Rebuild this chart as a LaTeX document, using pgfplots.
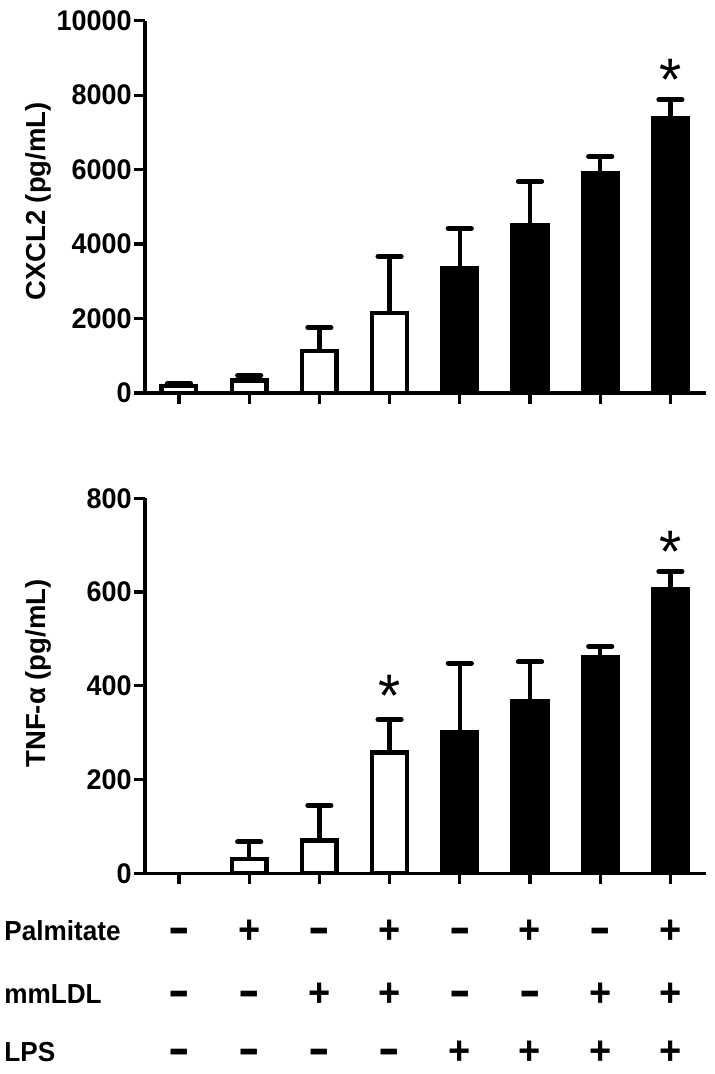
\documentclass[border=0pt]{standalone}
\usepackage{pgfplots}
\pgfplotsset{compat=1.18}
\usepackage{graphicx}
\usepackage{fontspec}
\setmainfont{Liberation Sans}[FakeStretch=0.95]
\newfontfamily\labfont{Liberation Sans}
\newcommand\pl{+}
\newcommand\mi{\raisebox{0em}{\scalebox{1.7}[1.2]{-}}}
\newcommand\tickfont{\bfseries\fontsize{14.2}{16}\selectfont}
\begin{document}
\begin{tikzpicture}
\path[use as bounding box] (0,0) rectangle (357pt,537pt);
\pgfplotsset{
  common/.style={
    scale only axis, width=280.5pt,
    xmin=-0.484, xmax=7.507, ymin=0,
    axis x line*=bottom, axis y line*=left,
    axis line style={line width=1.6pt, black},
    tick style={line width=1.6pt, black},
    tick align=outside, major tick length=5.5pt,
    xtick={0,1,2,3,4,5,6,7}, xticklabels={},
    scaled y ticks=false,
    yticklabel style={font=\tickfont, inner xsep=1pt},
    yticklabel={\tickfont\pgfmathprintnumber[assume math mode=true,1000 sep={}]{\tick}},
    clip=false,
    error bars/y dir=plus, error bars/y explicit,
    error bars/error bar style={line width=2.2pt, black},
    error bars/error mark options={rotate=90, line width=2.6pt, mark size=5.75pt, black, line cap=round},
  },
  wbar/.style={ybar, bar shift=0pt, bar width=17.3pt, fill=white, draw=black, line width=2.2pt},
  bbar/.style={ybar, bar shift=0pt, bar width=17.3pt, fill=black, draw=black, line width=2.2pt},
}
\tikzset{
  star/.style={font=\fontsize{30}{30}\selectfont, inner sep=0pt},
  sym/.style={font=\bfseries\fontsize{20}{20}\selectfont, inner sep=0pt, text height=0.6em, text depth=0pt, anchor=center},
  rowlab/.style={font=\bfseries\fontsize{13.75}{16}\selectfont, inner sep=0pt, anchor=west},
}
\newcommand\tabrow[9]{%
  \node[sym] at (axis cs:0,#1) {#2};
  \node[sym] at (axis cs:1,#1) {#3};
  \node[sym] at (axis cs:2,#1) {#4};
  \node[sym] at (axis cs:3,#1) {#5};
  \node[sym] at (axis cs:4,#1) {#6};
  \node[sym] at (axis cs:5,#1) {#7};
  \node[sym] at (axis cs:6,#1) {#8};
  \node[sym] at (axis cs:7,#1) {#9};
}
% ---------------- top panel ----------------
\begin{axis}[common,
  at={(72.5pt,340.5pt)}, anchor=south west,
  height=186.15pt, ymax=10000,
  ytick={0,2000,4000,6000,8000,10000},
  ylabel={CXCL2 (pg/mL)},
  every axis y label/.style={at={(axis description cs:-0.1893,0.5144)}, rotate=90, anchor=center,
    font=\labfont\bfseries\fontsize{13.75}{16}\selectfont},
]
\addplot[wbar, error bars/.cd, y dir=plus, y explicit] table[x=x, y=y, y error plus=e] {
x y e
0 180 80
1 340 130
2 1120 640
3 2150 1520
};
\addplot[bbar, error bars/.cd, y dir=plus, y explicit] table[x=x, y=y, y error plus=e] {
x y e
4 3357 1063
5 4520 1160
6 5910 440
7 7390 485
};
\node[star] at (axis cs:7,8400) {*};
\end{axis}
% ---------------- bottom panel ----------------
\begin{axis}[common,
  at={(72.5pt,100.35pt)}, anchor=south west,
  height=187.5pt, ymax=800,
  ytick={0,200,400,600,800},
  ylabel={TNF-α (pg/mL)},
  every axis y label/.style={at={(axis description cs:-0.1893,0.5328)}, rotate=90, anchor=center,
    font=\labfont\bfseries\fontsize{13.75}{16}\selectfont},
]
\addplot[wbar, error bars/.cd, y dir=plus, y explicit] table[x=x, y=y, y error plus=e] {
x y e
1 31 36
2 70 75
3 258 70
};
\addplot[bbar, error bars/.cd, y dir=plus, y explicit] table[x=x, y=y, y error plus=e] {
x y e
4 300 148
5 368 83
6 461 23
7 607 37
};
\node[star] at (axis cs:3,378) {*};
\node[star] at (axis cs:7,685) {*};
\tabrow{-138}{\mi}{\pl}{\mi}{\pl}{\mi}{\pl}{\mi}{\pl}
\tabrow{-271}{\mi}{\mi}{\pl}{\pl}{\mi}{\mi}{\pl}{\pl}
\tabrow{-396}{\mi}{\mi}{\mi}{\mi}{\pl}{\pl}{\pl}{\pl}
\end{axis}
\node[rowlab] at (2pt,71.5pt) {Palmitate};
\node[rowlab] at (2pt,40.15pt) {mmLDL};
\node[rowlab] at (2pt,10.85pt) {LPS};
\end{tikzpicture}
\end{document}
